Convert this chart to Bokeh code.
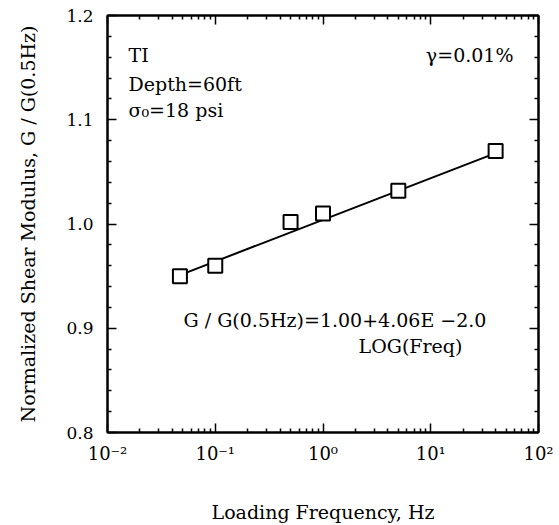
from bokeh.plotting import figure
from bokeh.models import (Label, FixedTicker, LinearAxis, LogAxis, Range1d)
from bokeh.embed import file_html
from bokeh.resources import INLINE

# ---- data ----
freq = [0.047, 0.1, 0.5, 1.0, 5.0, 40.0]
g_ratio = [0.950, 0.960, 1.002, 1.010, 1.032, 1.070]
fit_x = [0.047, 40.0]
fit_y = [0.951, 1.068]

y_ticks = [0.8, 0.9, 1.0, 1.1, 1.2]
y_tick_labels = ["0.8", "0.9", "1.0", "1.1", "1.2"]
y_minor = [0.82, 0.84, 0.86, 0.88, 0.92, 0.94, 0.96, 0.98,
           1.02, 1.04, 1.06, 1.08, 1.12, 1.14, 1.16, 1.18]
x_ticks = [0.01, 0.1, 1.0, 10.0, 100.0]
x_tick_labels = ["10⁻²", "10⁻¹", "10⁰", "10¹", "10²"]
x_minor = [m * d for d in [0.01, 0.1, 1.0, 10.0] for m in range(2, 10)]

FONT = "DejaVu Serif"

p = figure(width=559, height=525, x_axis_type="log",
           x_range=Range1d(0.01, 100), y_range=Range1d(0.8, 1.2),
           output_backend="svg", toolbar_location=None,
           min_border_left=107, min_border_right=21,
           min_border_top=15, min_border_bottom=90)
p.background_fill_color = "white"
p.border_fill_color = "white"
p.outline_line_color = "black"
p.outline_line_width = 2
p.xgrid.visible = False
p.ygrid.visible = False


def style(ax, labels=True):
    ax.axis_line_color = "black"
    ax.axis_line_width = 2
    ax.major_tick_in = 9
    ax.major_tick_out = 0
    ax.minor_tick_in = 4
    ax.minor_tick_out = 0
    ax.major_tick_line_width = 1.5
    ax.minor_tick_line_width = 1.5
    ax.major_tick_line_color = "black"
    ax.minor_tick_line_color = "black"
    ax.major_label_text_font = FONT
    ax.major_label_text_font_size = "17px"
    ax.major_label_text_color = "black"
    ax.axis_label_text_font = FONT
    ax.axis_label_text_font_size = "19px"
    ax.axis_label_text_font_style = "normal"
    ax.axis_label_text_color = "black"
    if not labels:
        ax.major_label_text_font_size = "2px"
        ax.major_label_text_alpha = 0
        ax.major_label_standoff = 0


xt = FixedTicker(ticks=x_ticks, minor_ticks=x_minor)
yt = FixedTicker(ticks=y_ticks, minor_ticks=y_minor)

xa = p.xaxis[0]
xa.ticker = xt
xa.major_label_overrides = dict(zip(x_ticks, x_tick_labels))
xa.axis_label = "Loading Frequency, Hz"
style(xa)
xa.major_label_text_font_size = "18px"
xa.major_label_standoff = 10
xa.axis_label_standoff = 34

ya = p.yaxis[0]
ya.ticker = yt
ya.major_label_overrides = dict(zip(y_ticks, y_tick_labels))
ya.axis_label = "Normalized Shear Modulus, G / G(0.5Hz)"
style(ya)
ya.major_label_standoff = 14
ya.axis_label_standoff = 24

top = LogAxis(ticker=FixedTicker(ticks=x_ticks, minor_ticks=x_minor))
style(top, labels=False)
p.add_layout(top, "above")
right = LinearAxis(ticker=FixedTicker(ticks=y_ticks, minor_ticks=y_minor))
style(right, labels=False)
p.add_layout(right, "right")

p.line(fit_x, fit_y, line_color="black", line_width=2)
p.scatter(freq, g_ratio, marker="square", size=14, fill_color="white",
          line_color="black", line_width=2)


def lab(x, y, text, align="left"):
    p.add_layout(Label(x=x, y=y, x_units="screen", y_units="screen",
                       text=text, text_font=FONT, text_font_size="19px",
                       text_color="black", text_align=align,
                       text_baseline="alphabetic"))


lab(21, 378, "TI")
lab(21, 349, "Depth=60ft")
lab(21, 323, "σ₀=18 psi")
lab(406, 378, "γ=0.01%", align="right")
lab(76, 113, "G / G(0.5Hz)=1.00+4.06E −2.0")
lab(303, 87, "LOG(Freq)", align="center")

open("out.html", "w").write(file_html(p, INLINE))
